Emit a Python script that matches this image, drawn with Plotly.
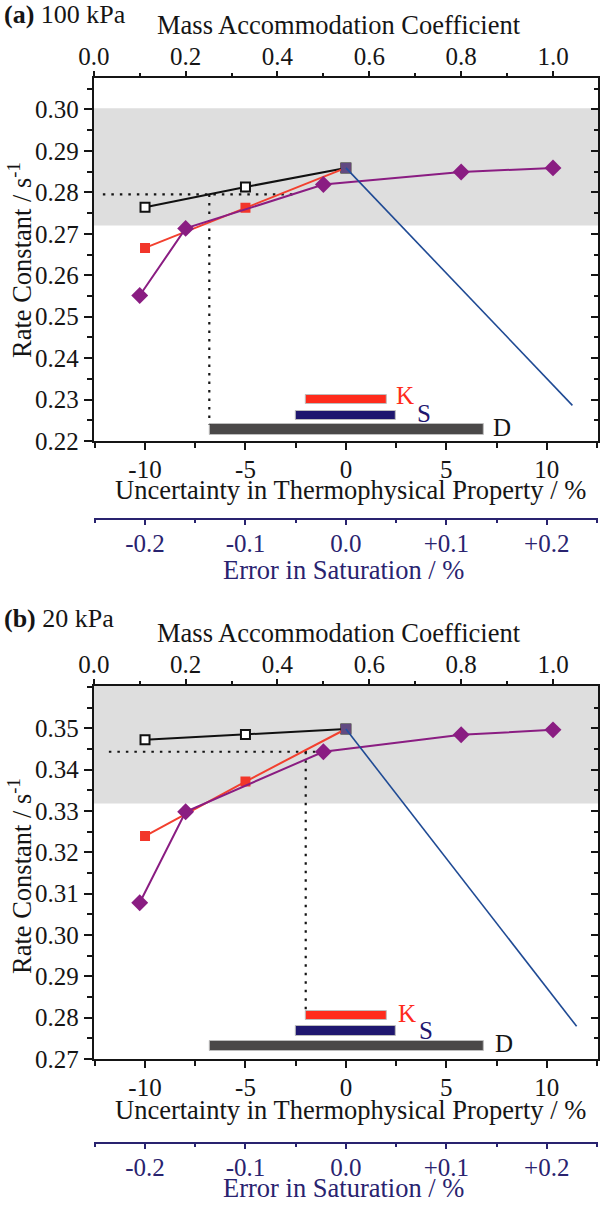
import plotly.graph_objects as go

W, H = 600, 1205
FONT = "Liberation Serif"
INK = "#151515"
NAVY = "#29236f"

# ---------------- shared tick data ----------------
thermo_ticks = [-10, -5, 0, 5, 10]
thermo_text = ["-10", "-5", "0", "5", "10"]
alpha_ticks = [0.0, 0.2, 0.4, 0.6, 0.8, 1.0]
sat_ticks = [-0.2, -0.1, 0.0, 0.1, 0.2]
sat_text = ["-0.2", "-0.1", "0.0", "+0.1", "+0.2"]
bar_names = ["K", "S", "D"]
bar_colors = ["#ff2b1c", "#1f176f", "#4a4848"]
label_colors = ["#ff2b1c", "#1f176f", "#151515"]
bar_start = [-2.0, -2.5, -6.8]
bar_end = [2.05, 2.5, 6.85]

# ---------------- panel (a) 100 kPa ----------------
a_thermo_x = [-10, -5, 0]
a_black_y = [0.2764, 0.2813, 0.2859]
a_red_y = [0.2666, 0.2763, 0.2859]
a_alpha_x = [0.1, 0.2, 0.5, 0.8, 1.0]
a_purple_y = [0.2551, 0.2713, 0.2819, 0.2849, 0.2859]
a_sat_x = [0.0, 0.2255]
a_blue_y = [0.2859, 0.2286]
a_band = [0.2720, 0.3003]
a_yticks = [0.22, 0.23, 0.24, 0.25, 0.26, 0.27, 0.28, 0.29, 0.30]
a_yrange = [0.22, 0.3076]
a_dot_h_x = [-12.1, -2.57]
a_dot_h_y = [0.2795, 0.2795]
a_dot_v_x = [-6.8, -6.8]
a_dot_v_y = [0.2795, 0.2240]
a_bar_y = [0.2300, 0.2262, 0.2227]
a_bar_h = [0.0020, 0.0021, 0.0026]
a_lab_x = [2.38, 3.43, 7.24]
a_lab_y = [0.2310, 0.2266, 0.2232]

# ---------------- panel (b) 20 kPa ----------------
b_thermo_x = [-10, -5, 0]
b_black_y = [0.3472, 0.3485, 0.3498]
b_red_y = [0.3239, 0.3371, 0.3498]
b_alpha_x = [0.1, 0.2, 0.5, 0.8, 1.0]
b_purple_y = [0.3078, 0.3298, 0.3443, 0.3484, 0.3496]
b_sat_x = [0.0, 0.2297]
b_blue_y = [0.3498, 0.2779]
b_band = [0.3318, 0.3700]
b_yticks = [0.27, 0.28, 0.29, 0.30, 0.31, 0.32, 0.33, 0.34, 0.35]
b_yrange = [0.27, 0.3602]
b_dot_h_x = [-11.8, -1.33]
b_dot_h_y = [0.3443, 0.3443]
b_dot_v_x = [-2.0, -2.0]
b_dot_v_y = [0.3443, 0.2816]
b_bar_y = [0.2805, 0.2768, 0.2732]
b_bar_h = [0.0022, 0.0023, 0.0025]
b_lab_x = [2.48, 3.52, 7.33]
b_lab_y = [0.2810, 0.2770, 0.2738]

THERMO_RANGE = [-12.55, 12.55]
ALPHA_RANGE = [0.0, 1.098]
SAT_RANGE = [-0.251, 0.251]

X0, X1 = 93.8, 598.0


def yp(px):
    return 1 - px / H


def xp(px):
    return px / W


fig = go.Figure()
layout = dict(
    width=W, height=H, margin=dict(l=0, r=0, t=0, b=0), autosize=False,
    paper_bgcolor="white", plot_bgcolor="white", showlegend=False,
    font=dict(family=FONT, size=25, color=INK), bargap=0,
)
shapes = []
annotations = []

panels = [
    dict(tag="a", label="<b>(a)</b> 100 kPa", top=78, bottom=441, sat=519.3,
         ttl_top=25, lab_y=15, ttl_bot=490, ttl_sat=570, ttl_y=260,
         xs=("x", "x2", "x3"), ys=("y", "y2"),
         thermo_x=a_thermo_x, black=a_black_y, red=a_red_y, alpha=a_alpha_x,
         purple=a_purple_y, satx=a_sat_x, blue=a_blue_y, band=a_band,
         yticks=a_yticks, yrange=a_yrange, dhx=a_dot_h_x, dhy=a_dot_h_y,
         dvx=a_dot_v_x, dvy=a_dot_v_y, bary=a_bar_y, barh=a_bar_h,
         labx=a_lab_x, laby=a_lab_y),
    dict(tag="b", label="<b>(b)</b> 20 kPa", top=686, bottom=1059, sat=1143.3,
         ttl_top=633, lab_y=618, ttl_bot=1110, ttl_sat=1188, ttl_y=876,
         xs=("x4", "x5", "x6"), ys=("y3", "y4"),
         thermo_x=b_thermo_x, black=b_black_y, red=b_red_y, alpha=b_alpha_x,
         purple=b_purple_y, satx=b_sat_x, blue=b_blue_y, band=b_band,
         yticks=b_yticks, yrange=b_yrange, dhx=b_dot_h_x, dhy=b_dot_h_y,
         dvx=b_dot_v_x, dvy=b_dot_v_y, bary=b_bar_y, barh=b_bar_h,
         labx=b_lab_x, laby=b_lab_y),
]


def axname(ref):
    return ref[0] + "axis" + ref[1:]


for p in panels:
    xb, xt, xs = p["xs"]
    yl, yr = p["ys"]
    dom_x = [xp(X0), xp(X1)]
    dom_y = [yp(p["bottom"]), yp(p["top"])]
    common = dict(showgrid=False, zeroline=False, linecolor=INK, linewidth=2,
                  tickcolor=INK, tickwidth=2, automargin=False)
    # bottom thermo axis
    layout[axname(xb)] = dict(common, domain=dom_x, anchor=yl, range=THERMO_RANGE,
                              tickvals=thermo_ticks, ticktext=thermo_text,
                              ticks="outside", ticklen=7, showline=True,
                              ticklabelstandoff=-2,
                              minor=dict(dtick=2.5, tick0=0, ticks="outside", ticklen=5,
                                         tickcolor=INK, tickwidth=2),
                              tickfont=dict(size=25, color=INK, family=FONT))
    # top alpha axis
    layout[axname(xt)] = dict(common, domain=dom_x, anchor=yl, overlaying=xb, side="top",
                              range=ALPHA_RANGE, tickvals=alpha_ticks, tickformat=".1f",
                              ticks="outside", ticklen=5, showline=True,
                              ticklabelstandoff=-4,
                              minor=dict(dtick=0.1, tick0=0, ticks="outside", ticklen=3,
                                         tickcolor=INK, tickwidth=2),
                              tickfont=dict(size=25, color=INK, family=FONT))
    # saturation axis (free)
    layout[axname(xs)] = dict(showgrid=False, zeroline=False, domain=dom_x, anchor="free",
                              overlaying=xb, position=yp(p["sat"]), side="bottom",
                              automargin=False,
                              range=SAT_RANGE, tickvals=sat_ticks, ticktext=sat_text,
                              ticks="outside", ticklen=5, showline=True, linecolor=NAVY,
                              linewidth=2, tickcolor=NAVY, tickwidth=2,
                              ticklabelstandoff=-3,
                              minor=dict(dtick=0.05, tick0=0, ticks="outside", ticklen=3,
                                         tickcolor=NAVY, tickwidth=2),
                              tickfont=dict(size=25, color=NAVY, family=FONT))
    # left y axis
    layout[axname(yl)] = dict(common, domain=dom_y, anchor=xb, range=p["yrange"],
                              tickvals=p["yticks"], tickformat=".2f", ticks="outside",
                              ticklen=8, showline=True,
                              minor=dict(dtick=0.005, tick0=0, ticks="outside", ticklen=5,
                                         tickcolor=INK, tickwidth=2),
                              tickfont=dict(size=25, color=INK, family=FONT))
    # right y axis (inside ticks only)
    layout[axname(yr)] = dict(common, domain=dom_y, anchor=xb, overlaying=yl, side="right",
                              range=p["yrange"], tickvals=p["yticks"], ticks="inside",
                              ticklen=7, showline=True, showticklabels=False,
                              minor=dict(dtick=0.005, tick0=0, ticks="inside", ticklen=4,
                                         tickcolor=INK, tickwidth=2))

    # gray band
    shapes.append(dict(type="rect", xref=xb + " domain", yref=yl, x0=0, x1=1,
                       y0=p["band"][0], y1=min(p["band"][1], p["yrange"][1]),
                       fillcolor="#dedede", line=dict(width=0), layer="below"))

    # dummy trace so the right axis is drawn
    fig.add_trace(go.Scatter(x=[None], y=[None], xaxis=xb, yaxis=yr, hoverinfo="skip",
                             mode="markers"))

    # error bars of thermophysical uncertainty (K, S, D)
    fig.add_trace(go.Bar(
        orientation="h", y=p["bary"], width=p["barh"],
        base=bar_start, x=[e - s for s, e in zip(bar_start, bar_end)],
        marker=dict(color=bar_colors, line=dict(color="#bdbdbd", width=1)),
        xaxis=xb, yaxis=yl, hoverinfo="skip"))

    # dotted guide lines
    for dx, dy in ((p["dhx"], p["dhy"]), (p["dvx"], p["dvy"])):
        fig.add_trace(go.Scatter(x=dx, y=dy, mode="lines", xaxis=xb, yaxis=yl,
                                 line=dict(color=INK, width=2.2, dash="2.5px,6px")))

    # black open squares
    fig.add_trace(go.Scatter(x=p["thermo_x"], y=p["black"], mode="lines+markers",
                             xaxis=xb, yaxis=yl,
                             line=dict(color="#111111", width=2),
                             marker=dict(symbol="square", size=9, color="white",
                                         line=dict(color="#111111", width=2))))
    # red squares
    fig.add_trace(go.Scatter(x=p["thermo_x"], y=p["red"], mode="lines+markers",
                             xaxis=xb, yaxis=yl,
                             line=dict(color="#f2402f", width=2),
                             marker=dict(symbol="square", size=10, color="#f2362a",
                                         line=dict(width=0))))
    # purple diamonds (mass accommodation)
    fig.add_trace(go.Scatter(x=p["alpha"], y=p["purple"], mode="lines+markers",
                             xaxis=xt, yaxis=yl,
                             line=dict(color="#8a1d82", width=2),
                             marker=dict(symbol="diamond", size=13, color="#8a1d82",
                                         line=dict(width=0))))
    # blue line (saturation)
    fig.add_trace(go.Scatter(x=p["satx"], y=p["blue"], mode="lines+markers",
                             xaxis=xs, yaxis=yl,
                             line=dict(color="#1f4a94", width=1.6),
                             marker=dict(symbol="square", size=[10, 0], color="#2453a8",
                                         line=dict(width=0))))

    # K / S / D labels
    for name, col, lx, ly in zip(bar_names, label_colors, p["labx"], p["laby"]):
        annotations.append(dict(text=name, x=lx, y=ly, xref=xb, yref=yl,
                                xanchor="left", yanchor="middle", showarrow=False,
                                font=dict(size=25, color=col, family=FONT)))

    # titles
    annotations.append(dict(text=p["label"], x=0.003, y=yp(p["lab_y"]), xref="paper",
                            yref="paper", xanchor="left", yanchor="middle",
                            showarrow=False, font=dict(size=26, color=INK, family=FONT)))
    annotations.append(dict(text="Mass Accommodation Coefficient", x=xp(339),
                            y=yp(p["ttl_top"]), xref="paper", yref="paper",
                            xanchor="center", yanchor="middle", showarrow=False,
                            font=dict(size=26.5, color=INK, family=FONT)))
    annotations.append(dict(text="Uncertainty in Thermophysical Property / %", x=xp(350),
                            y=yp(p["ttl_bot"]), xref="paper", yref="paper",
                            xanchor="center", yanchor="middle", showarrow=False,
                            font=dict(size=26.5, color=INK, family=FONT)))
    annotations.append(dict(text="Error in Saturation / %", x=xp(343.5),
                            y=yp(p["ttl_sat"]), xref="paper", yref="paper",
                            xanchor="center", yanchor="middle", showarrow=False,
                            font=dict(size=26.5, color=NAVY, family=FONT)))
    annotations.append(dict(text="Rate Constant / s<sup>-1</sup>", x=xp(20),
                            y=yp(p["ttl_y"]), xref="paper", yref="paper",
                            xanchor="center", yanchor="middle", textangle=-90,
                            showarrow=False, font=dict(size=26.5, color=INK, family=FONT)))

layout["shapes"] = shapes
layout["annotations"] = annotations
fig.update_layout(**layout)
fig.write_html("out.html", config={"displayModeBar": False},
               post_script="document.body.style.margin='0px';document.body.style.overflow='hidden';")
